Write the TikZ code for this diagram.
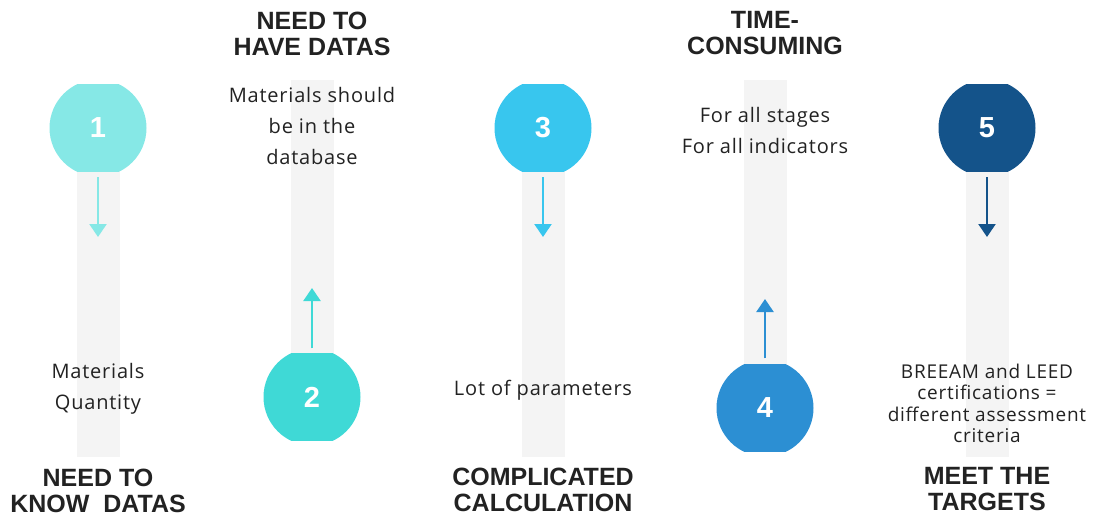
\documentclass[tikz,border=0pt]{standalone}
\usepackage{fontspec}
\setmainfont{Open Sans}
\newfontfamily\headfont{Liberation Sans}
\newfontfamily\bodyfont[LetterSpace=4]{Open Sans}
\usetikzlibrary{arrows.meta}
\definecolor{barGray}{HTML}{F4F4F4}
\definecolor{ink}{HTML}{222222}
\definecolor{ballA}{HTML}{86E8E6}
\definecolor{ballB}{HTML}{3FD9D6}
\definecolor{ballC}{HTML}{38C6EE}
\definecolor{ballD}{HTML}{2C8FD3}
\definecolor{ballE}{HTML}{14538A}

\begin{document}
\begin{tikzpicture}[x=1pt,y=-1pt,
  bar/.style={fill=barGray},
  ball/.style={rectangle, minimum width=97pt, minimum height=87pt, inner sep=0pt,
    text=white, font=\headfont\bfseries\fontsize{29}{29}\selectfont,
    path picture={\fill[#1] (path picture bounding box.center) circle (48.5pt);}},
  flow/.style={draw=#1, line width=2.3pt, -{Triangle[width=17pt,length=13pt]}},
  head/.style={align=center, text=ink, font=\headfont\bfseries\fontsize{25}{26}\selectfont},
  note/.style={align=center, text=ink, font=\bodyfont\fontsize{20}{31}\selectfont}]
\useasboundingbox (0,0) rectangle (1093,517);

\fill[bar] (76.5,128) rectangle (119.5,457);
\fill[bar] (290.5,80) rectangle (333.5,397);
\fill[bar] (521.5,128) rectangle (564.5,457);
\fill[bar] (743.5,80) rectangle (786.5,408);
\fill[bar] (965.5,128) rectangle (1008.5,457);

\node[ball=ballA] (c1) at (98,128) {1};
\node[ball=ballB] (c2) at (312,397) {2};
\node[ball=ballC] (c3) at (543,128) {3};
\node[ball=ballD] (c4) at (765,408) {4};
\node[ball=ballE] (c5) at (987,128) {5};

\coordinate (t1) at (98,237);
\coordinate (t2) at (312,288);
\coordinate (t3) at (543,237);
\coordinate (t4) at (765,299);
\coordinate (t5) at (987,237);
\draw[flow=ballA] ([yshift=-5.5pt]c1.south) -- (t1);
\draw[flow=ballB] ([yshift=5pt]c2.north) -- (t2);
\draw[flow=ballC] ([yshift=-5.5pt]c3.south) -- (t3);
\draw[flow=ballD] ([yshift=6pt]c4.north) -- (t4);
\draw[flow=ballE] ([yshift=-5.5pt]c5.south) -- (t5);

\node[note] (n1) at (98,389) {Materials\\Quantity};
\node[note] (n2) at (312,126) {Materials should\\be in the\\database};
\node[note] (n3) at (543,390) {Lot of parameters};
\node[note, font=\bodyfont\fontsize{19}{21.5}\selectfont] (n5) at (987,403.5)
  {BREEAM and LEED\\certifications =\\different assessment\\criteria};
\node[note] (n4) at (765,130) {For all stages\\For all indicators};

\node[head] (h1) at (98,490.5) {NEED TO\\KNOW~~DATAS};
\node[head] (h2) at (312,33.5) {NEED TO\\HAVE DATAS};
\node[head] (h3) at (543,490) {COMPLICATED\\CALCULATION};
\node[head] (h4) at (765,33.5) {TIME-\\CONSUMING};
\node[head] (h5) at (987,489.5) {MEET THE\\TARGETS};
\end{tikzpicture}
\end{document}
